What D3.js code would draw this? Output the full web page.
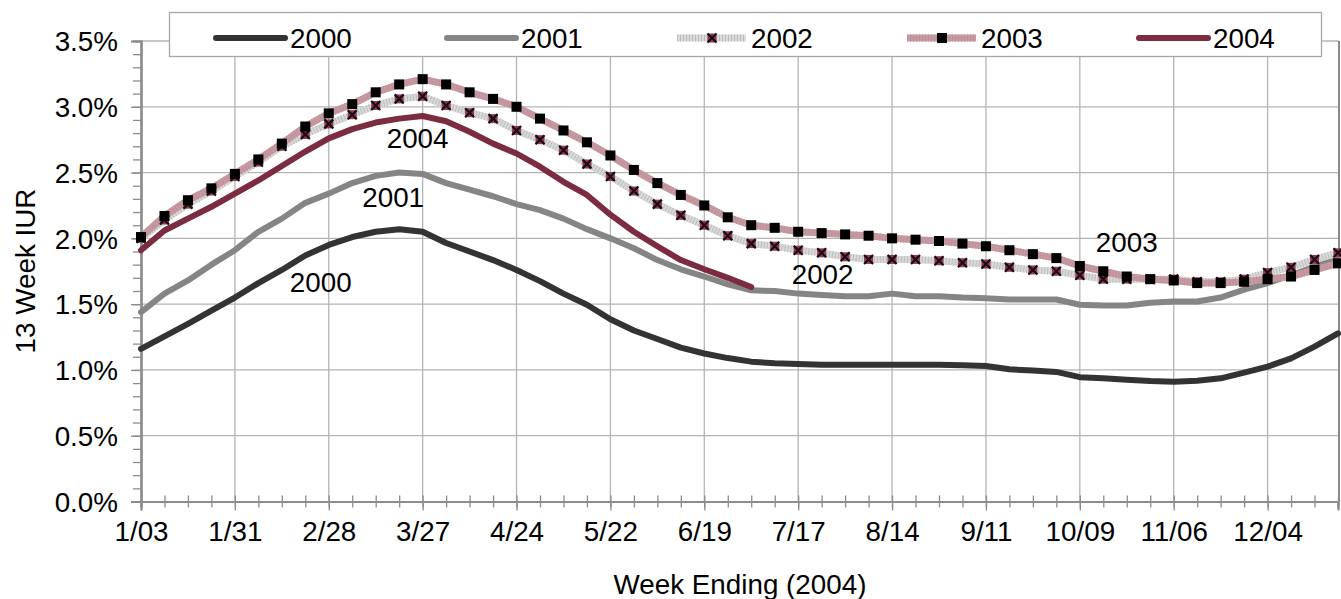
<!DOCTYPE html>
<html><head><meta charset="utf-8">
<script src="https://cdn.jsdelivr.net/npm/d3@7"></script>
<style>
html,body{margin:0;padding:0;background:#fff;}
svg text{font-family:"Liberation Sans",Arial,sans-serif;fill:#000;}
</style></head>
<body><svg id="c" width="1341" height="599"></svg>
<script>
const weeks = ["1/03","1/10","1/17","1/24","1/31","2/07","2/14","2/21","2/28","3/06","3/13","3/20","3/27","4/03","4/10","4/17","4/24","5/01","5/08","5/15","5/22","5/29","6/05","6/12","6/19","6/26","7/03","7/10","7/17","7/24","7/31","8/07","8/14","8/21","8/28","9/04","9/11","9/18","9/25","10/02","10/09","10/16","10/23","10/30","11/06","11/13","11/20","11/27","12/04","12/11","12/18","12/25"];
const tickLabels = ["1/03","1/31","2/28","3/27","4/24","5/22","6/19","7/17","8/14","9/11","10/09","11/06","12/04"];
const yTicks = [0,0.005,0.01,0.015,0.02,0.025,0.03,0.035];
const seriesNames = ["2000","2001","2002","2003","2004"];
const v2000 = [1.16,1.255,1.35,1.45,1.55,1.66,1.76,1.87,1.95,2.01,2.05,2.07,2.05,1.965,1.90,1.835,1.76,1.675,1.58,1.495,1.385,1.30,1.235,1.17,1.125,1.09,1.063,1.05,1.045,1.04,1.04,1.04,1.04,1.04,1.04,1.035,1.03,1.005,0.995,0.985,0.945,0.936,0.925,0.916,0.911,0.918,0.936,0.979,1.025,1.088,1.177,1.278];
const v2001 = [1.44,1.58,1.68,1.80,1.91,2.05,2.15,2.27,2.34,2.42,2.475,2.50,2.49,2.42,2.37,2.32,2.26,2.215,2.15,2.07,2.00,1.925,1.835,1.765,1.71,1.65,1.605,1.60,1.58,1.57,1.56,1.56,1.58,1.56,1.56,1.55,1.545,1.535,1.535,1.535,1.495,1.49,1.49,1.51,1.52,1.52,1.55,1.61,1.66,1.72,1.785,1.84];
const v2002 = [2.00,2.14,2.26,2.36,2.47,2.58,2.70,2.79,2.87,2.94,3.01,3.06,3.08,3.01,2.955,2.91,2.82,2.75,2.67,2.565,2.47,2.36,2.26,2.175,2.10,2.02,1.96,1.94,1.91,1.89,1.86,1.84,1.84,1.84,1.83,1.815,1.805,1.78,1.76,1.75,1.72,1.69,1.69,1.69,1.69,1.67,1.67,1.69,1.74,1.78,1.84,1.89];
const v2003 = [2.01,2.17,2.29,2.38,2.49,2.60,2.72,2.85,2.95,3.02,3.11,3.17,3.21,3.17,3.11,3.06,3.00,2.91,2.82,2.73,2.63,2.52,2.42,2.33,2.25,2.16,2.10,2.08,2.05,2.04,2.03,2.02,2.00,1.99,1.98,1.96,1.94,1.91,1.88,1.85,1.79,1.75,1.71,1.69,1.68,1.66,1.66,1.67,1.69,1.71,1.76,1.81];
const v2004 = [1.91,2.06,2.15,2.24,2.34,2.44,2.55,2.66,2.76,2.83,2.88,2.91,2.93,2.89,2.81,2.72,2.645,2.545,2.43,2.33,2.18,2.05,1.94,1.835,1.765,1.70,1.63];
const annLabels = ["2004","2001","2000","2002","2003"];
const annWeeks = ["3/13","3/06","2/14","7/10","10/09"];
const annValues = [2.687,2.238,1.592,1.653,1.896];

const FS = 27, SX = 1.03;
const svg = d3.select("#c");
const x = d3.scalePoint().domain(weeks).range([141,1338]).padding(0);
const y = d3.scaleLinear().domain([0,0.035]).range([501.5,41]);

// gridlines
const grid = svg.append("g");
grid.selectAll("line.h").data(yTicks.slice(1)).join("line")
  .attr("x1",141).attr("x2",1339).attr("y1",d=>y(d)).attr("y2",d=>y(d))
  .attr("stroke","#b4b4b4").attr("stroke-width",1.3);
grid.selectAll("line.v").data(tickLabels.slice(1)).join("line")
  .attr("x1",d=>x(d)).attr("x2",d=>x(d)).attr("y1",y(0)).attr("y2",y(0.035))
  .attr("stroke","#b4b4b4").attr("stroke-width",1.3);
grid.append("line").attr("x1",1339).attr("x2",1339).attr("y1",y(0)).attr("y2",y(0.035))
  .attr("stroke","#8c8c8c").attr("stroke-width",2);

// axes
const axisColor = "#8c8c8c";
const yMinor = svg.append("g").attr("transform","translate(141,0)")
  .call(d3.axisLeft(y).tickValues(d3.range(0,36).map(i=>i/1000)).tickSize(8).tickFormat(""));
const yAx = svg.append("g").attr("transform","translate(141,0)")
  .call(d3.axisLeft(y).tickValues(yTicks).tickSize(10).tickPadding(13).tickFormat(d3.format(".1%")));
const xMinor = svg.append("g").attr("transform",`translate(0,${y(0)})`)
  .call(d3.axisBottom(x).tickValues(weeks).tickSize(6).tickFormat(""));
xMinor.selectAll(".tick line").attr("y1",-6);
const xAx = svg.append("g").attr("transform",`translate(0,${y(0)})`)
  .call(d3.axisBottom(x).tickValues(tickLabels).tickSize(9).tickPadding(11));
[yMinor,yAx,xMinor,xAx].forEach(g=>{
  g.selectAll("path.domain").attr("stroke",axisColor).attr("stroke-width",2.2);
  g.selectAll(".tick line").attr("stroke",axisColor).attr("stroke-width",1.3);
  g.selectAll("text").attr("font-size",FS).attr("fill","#000")
   .attr("font-family","Liberation Sans, Arial, sans-serif");
});
yAx.selectAll(".tick text").attr("transform",`scale(${SX},1)`).attr("x",-23/SX).attr("dy","0.36em");
xAx.selectAll(".tick text").attr("transform",`scale(${SX},1)`);

// axis titles
svg.append("text").attr("transform",`translate(740,594) scale(${SX},1)`).attr("text-anchor","middle")
  .attr("font-size",FS).text("Week Ending (2004)");
svg.append("text").attr("transform",`translate(35,271) rotate(-90) scale(${SX},1)`).attr("text-anchor","middle")
  .attr("font-size",FS).text("13 Week IUR");

// series
const line = d3.line().x((d,i)=>x(weeks[i])).y(d=>y(d/100));
const plot = svg.append("g");
const styles = [
  {c:"#333333",w:6},
  {c:"#858585",w:6},
  {c:"#dadada",w:7,h:"#bdbdbd"},
  {c:"#c79aa1",w:7,h:"#bf9097"},
  {c:"#7c2c41",w:6}
];
function addSeries(vals, st){
  plot.append("path").datum(vals).attr("d",line).attr("fill","none")
    .attr("stroke",st.c).attr("stroke-width",st.w).attr("stroke-linejoin","round").attr("stroke-linecap","round");
  if(st.h){
    plot.append("path").datum(vals).attr("d",line).attr("fill","none")
      .attr("stroke",st.h).attr("stroke-width",st.w).attr("stroke-dasharray","1 2");
  }
}
[v2000,v2001,v2002,v2003,v2004].forEach((v,k)=>addSeries(v,styles[k]));

function xMark(g,cx,cy){
  g.append("rect").attr("x",cx-4.5).attr("y",cy-4.5).attr("width",9).attr("height",9).attr("fill","#9b3356");
  g.append("path").attr("d",`M${cx-4.5},${cy-4.5}L${cx+4.5},${cy+4.5}M${cx-4.5},${cy+4.5}L${cx+4.5},${cy-4.5}`)
    .attr("stroke","#111").attr("stroke-width",2.2);
}
function sqMark(g,cx,cy){
  g.append("rect").attr("x",cx-5).attr("y",cy-5).attr("width",10).attr("height",10).attr("fill","#000");
}
const m2002 = plot.append("g");
v2002.forEach((v,i)=>xMark(m2002,x(weeks[i]),y(v/100)));
const m2003 = plot.append("g");
v2003.forEach((v,i)=>sqMark(m2003,x(weeks[i]),y(v/100)));

// series labels
const annDx = [11,10,8,17,16];
annLabels.forEach((t,k)=>{
  svg.append("text").attr("transform",`translate(${x(annWeeks[k])+annDx[k]},${y(annValues[k]/100)}) scale(${SX},1)`)
    .attr("font-size",FS).text(t);
});

// legend
const lg = svg.append("g");
lg.append("rect").attr("x",169.5).attr("y",12.5).attr("width",1152).attr("height",44)
  .attr("fill","#fff").attr("stroke","#a6a6a6").attr("stroke-width",1.3);
const legendX = [216,447,677,907,1139];
seriesNames.forEach((n,k)=>{
  const x0 = legendX[k], ly = 38, st = styles[k];
  lg.append("line").attr("x1",x0).attr("x2",x0+69).attr("y1",ly).attr("y2",ly)
    .attr("stroke",st.c).attr("stroke-width",st.w).attr("stroke-linecap",st.h?"butt":"round");
  if(st.h) lg.append("line").attr("x1",x0).attr("x2",x0+69).attr("y1",ly).attr("y2",ly)
    .attr("stroke",st.h).attr("stroke-width",st.w).attr("stroke-dasharray","1 2");
  if(k===2) xMark(lg,x0+35,ly);
  if(k===3) sqMark(lg,x0+35,ly);
  lg.append("text").attr("transform",`translate(${x0+74},${ly+10}) scale(${SX},1)`)
    .attr("font-size",FS).text(n);
});
</script></body></html>
